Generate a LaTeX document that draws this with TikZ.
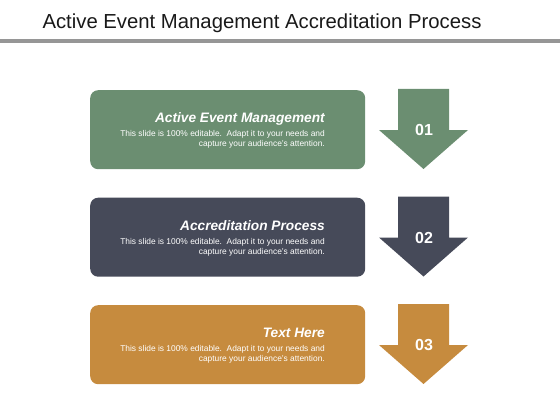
\documentclass[tikz,border=0pt]{standalone}
\usepackage{fontspec}
\setmainfont{Liberation Sans}
\usepackage{xcolor}
\definecolor{sage}{RGB}{107,142,113}
\definecolor{slate}{RGB}{70,74,89}
\definecolor{ochre}{RGB}{198,139,62}
\definecolor{rule}{RGB}{150,150,150}
\newcommand{\FT}{\fontsize{20.3}{24}\selectfont}
\newcommand{\FH}{\fontsize{13.7}{16}\selectfont\bfseries\itshape}
\newcommand{\FB}{\fontsize{8.4}{10.2}\selectfont}
\newcommand{\FN}{\fontsize{16}{19}\selectfont\bfseries}
\begin{document}
\begin{tikzpicture}[x=1pt,y=-1pt]
\tikzstyle{titulo}=[draw=none,fill=none,black!90!white,font=\FT,inner sep=0pt]
\tikzstyle{caja}=[rounded corners=8pt,inner sep=0pt,minimum width=275pt,minimum height=79pt,anchor=north west]
\tikzstyle{cabeza}=[white,font=\FH,inner sep=0pt,anchor=base east]
\tikzstyle{cuerpo}=[white,font=\FB,inner sep=0pt,anchor=north east,align=right]
\tikzstyle{numero}=[white,font=\FN,inner sep=0pt]

\useasboundingbox (0,0) rectangle (560,420);

\node[titulo,anchor=base] (title) at (262,28.5) {Active Event Management Accreditation Process};
\fill[rule] (0,39.5) rectangle (560,43.5);

% first row
\node[caja,fill=sage] (box1) at (90,90) {};
\node[cabeza] (head1) at (325,122.5) {Active Event Management};
\node[cuerpo] (body1) at (325,130.3) {This slide is 100\% editable.\ \ Adapt it to your needs and\\capture your audience's attention.};
\fill[sage] (398,89) -- (449,89) -- (449,130) -- (468,130) -- (423.5,169) -- (379,130) -- (398,130) -- cycle;
\node[numero] (num1) at (424,130) {01};

% second row
\node[caja,fill=slate] (box2) at (90,197.5) {};
\node[cabeza] (head2) at (325,230) {Accreditation Process};
\node[cuerpo] (body2) at (325,237.8) {This slide is 100\% editable.\ \ Adapt it to your needs and\\capture your audience's attention.};
\fill[slate] (398,196.5) -- (449,196.5) -- (449,237.5) -- (468,237.5) -- (423.5,276.5) -- (379,237.5) -- (398,237.5) -- cycle;
\node[numero] (num2) at (424,237.5) {02};

% third row
\node[caja,fill=ochre] (box3) at (90,305) {};
\node[cabeza] (head3) at (325,337.5) {Text Here};
\node[cuerpo] (body3) at (325,345.3) {This slide is 100\% editable.\ \ Adapt it to your needs and\\capture your audience's attention.};
\fill[ochre] (398,304) -- (449,304) -- (449,345) -- (468,345) -- (423.5,384) -- (379,345) -- (398,345) -- cycle;
\node[numero] (num3) at (424,345) {03};
\end{tikzpicture}
\end{document}
